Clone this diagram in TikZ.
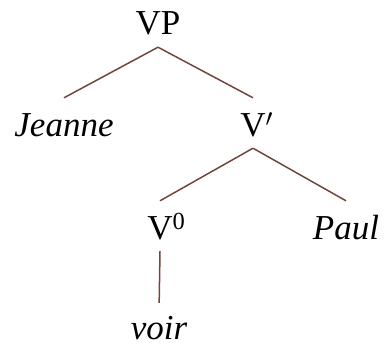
\documentclass[tikz,border=0pt]{standalone}
\usepackage{fontspec}
\setmainfont{Liberation Serif}
\definecolor{branch}{RGB}{112,70,62}
\begin{document}
\begin{tikzpicture}[x=1pt,y=-1pt,
  lab/.style={anchor=base,inner xsep=0pt,inner ysep=12pt,text height=26pt,text depth=0pt,
    font=\fontsize{35}{40}\selectfont},
  leaf/.style={lab,inner ysep=0pt},
  edge/.style={draw=branch,line width=1.5pt}]
  \useasboundingbox (0,0) rectangle (385,345);
  % tree labels
  \node[lab]  (vp)     at (158,35)  {VP};
  \node[lab]  (jeanne) at (64,136)  {\textit{Jeanne}};
  \node[lab]  (vbar)   at (253,136) {V\rlap{$'$}};
  \node[lab]  (vzero)  at (160,239) {V\rlap{\textsuperscript{0}}};
  \node[lab]  (paul)   at (346,239) {\textit{Paul}};
  \node[leaf] (voir)   at (159,339) {\textit{voir}};
  % branches
  \draw[edge] (vp.south)    -- (jeanne.north);
  \draw[edge] (vp.south)    -- (vbar.north);
  \draw[edge] (vbar.south)  -- (vzero.north);
  \draw[edge] (vbar.south)  -- (paul.north);
  \draw[edge,shorten >=10pt] (vzero.south) -- (voir.north);
\end{tikzpicture}
\end{document}
